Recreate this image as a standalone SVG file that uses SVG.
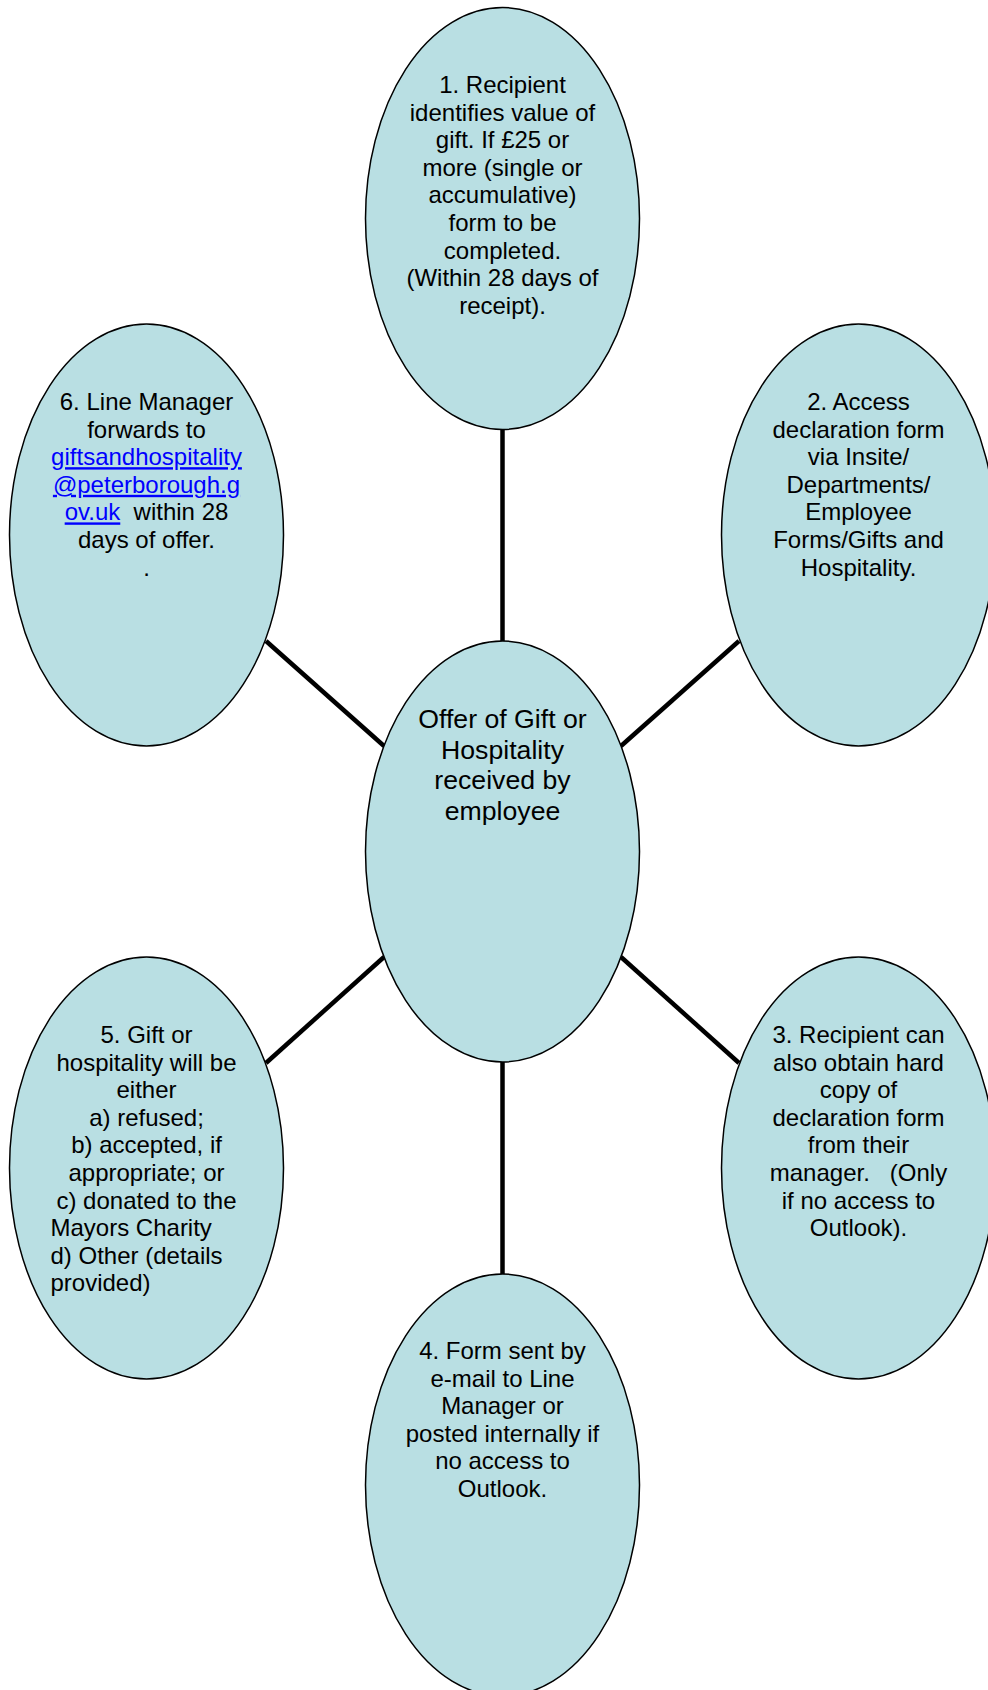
<svg xmlns="http://www.w3.org/2000/svg" width="988" height="1690" viewBox="0 0 988 1690">
<style>
.node{fill:#B9DFE3;stroke:#000;stroke-width:1.5}
.conn{stroke:#000;stroke-width:4.5;fill:none}
text{font-family:"Liberation Sans",Arial,sans-serif;font-size:24px;fill:#000}
.c{text-anchor:middle}
.big{font-size:26.67px}
.link{fill:#0000FF;text-decoration:underline}
</style>
<rect width="988" height="1690" fill="#fff"/>
<g id="connectors">
<line class="conn" x1="502.5" y1="429" x2="502.5" y2="642"/>
<line class="conn" x1="502.5" y1="1061" x2="502.5" y2="1275"/>
<line class="conn" x1="266" y1="641" x2="384" y2="746"/>
<line class="conn" x1="621" y1="746" x2="739" y2="641"/>
<line class="conn" x1="266" y1="1063" x2="384" y2="957"/>
<line class="conn" x1="621" y1="957" x2="739" y2="1063"/>
</g>
<g id="node1">
<ellipse class="node" cx="502.5" cy="218.5" rx="137" ry="211"/>
<text class="c" x="502.5" y="93">1. Recipient</text>
<text class="c" x="502.5" y="120.6">identifies value of</text>
<text class="c" x="502.5" y="148.2">gift. If £25 or</text>
<text class="c" x="502.5" y="175.8">more (single or</text>
<text class="c" x="502.5" y="203.4">accumulative)</text>
<text class="c" x="502.5" y="231">form to be</text>
<text class="c" x="502.5" y="258.6">completed.</text>
<text class="c" x="502.5" y="286.2">(Within 28 days of</text>
<text class="c" x="502.5" y="313.8">receipt).</text>
</g>
<g id="node6">
<ellipse class="node" cx="146.5" cy="535" rx="137" ry="211"/>
<text class="c" x="146.5" y="410">6. Line Manager</text>
<text class="c" x="146.5" y="437.6">forwards to</text>
<text class="c" x="146.5" y="465.2"><tspan class="link">giftsandhospitality</tspan></text>
<text class="c" x="146.5" y="492.8"><tspan class="link">@peterborough.g</tspan></text>
<text class="c" x="146.5" y="520.4" xml:space="preserve"><tspan class="link">ov.uk</tspan>  within 28</text>
<text class="c" x="146.5" y="548">days of offer.</text>
<text class="c" x="146.5" y="575.6">.</text>
</g>
<g id="node2">
<ellipse class="node" cx="858.5" cy="535" rx="137" ry="211"/>
<text class="c" x="858.5" y="410">2. Access</text>
<text class="c" x="858.5" y="437.6">declaration form</text>
<text class="c" x="858.5" y="465.2">via Insite/</text>
<text class="c" x="858.5" y="492.8">Departments/</text>
<text class="c" x="858.5" y="520.4">Employee</text>
<text class="c" x="858.5" y="548">Forms/Gifts and</text>
<text class="c" x="858.5" y="575.6">Hospitality.</text>
</g>
<g id="center">
<ellipse class="node" cx="502.5" cy="851.5" rx="137" ry="210.5"/>
<text class="c big" x="502.5" y="728">Offer of Gift or</text>
<text class="c big" x="502.5" y="758.5">Hospitality</text>
<text class="c big" x="502.5" y="789">received by</text>
<text class="c big" x="502.5" y="819.5">employee</text>
</g>
<g id="node5">
<ellipse class="node" cx="146.5" cy="1168" rx="137" ry="211"/>
<text class="c" x="146.5" y="1043">5. Gift or</text>
<text class="c" x="146.5" y="1070.6">hospitality will be</text>
<text class="c" x="146.5" y="1098.2">either</text>
<text class="c" x="146.5" y="1125.8">a) refused;</text>
<text class="c" x="146.5" y="1153.4">b) accepted, if</text>
<text class="c" x="146.5" y="1181">appropriate; or</text>
<text class="c" x="146.5" y="1208.6">c) donated to the</text>
<text x="50.5" y="1236.2">Mayors Charity</text>
<text x="50.5" y="1263.8">d) Other (details</text>
<text x="50.5" y="1291.4">provided)</text>
</g>
<g id="node3">
<ellipse class="node" cx="858.5" cy="1168" rx="137" ry="211"/>
<text class="c" x="858.5" y="1043">3. Recipient can</text>
<text class="c" x="858.5" y="1070.6">also obtain hard</text>
<text class="c" x="858.5" y="1098.2">copy of</text>
<text class="c" x="858.5" y="1125.8">declaration form</text>
<text class="c" x="858.5" y="1153.4">from their</text>
<text class="c" x="858.5" y="1181" xml:space="preserve">manager.   (Only</text>
<text class="c" x="858.5" y="1208.6">if no access to</text>
<text class="c" x="858.5" y="1236.2">Outlook).</text>
</g>
<g id="node4">
<ellipse class="node" cx="502.5" cy="1485" rx="137" ry="211"/>
<text class="c" x="502.5" y="1359">4. Form sent by</text>
<text class="c" x="502.5" y="1386.6">e-mail to Line</text>
<text class="c" x="502.5" y="1414.2">Manager or</text>
<text class="c" x="502.5" y="1441.8">posted internally if</text>
<text class="c" x="502.5" y="1469.4">no access to</text>
<text class="c" x="502.5" y="1497">Outlook.</text>
</g>
</svg>
